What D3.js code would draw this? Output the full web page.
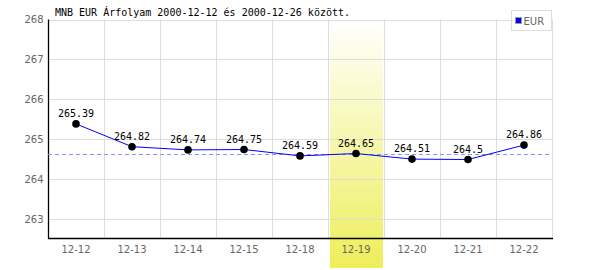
<!DOCTYPE html>
<html>
<head>
<meta charset="utf-8">
<script src="https://cdn.jsdelivr.net/npm/d3@7"></script>
<style>
  body { margin: 0; background: #fff; }
  svg text { font-family: "DejaVu Sans", Verdana, sans-serif; }
</style>
</head>
<body>
<script>
var days = ['12-12', '12-13', '12-14', '12-15', '12-18', '12-19', '12-20', '12-21', '12-22']
var rates = [265.39, 264.82, 264.74, 264.75, 264.59, 264.65, 264.51, 264.5, 264.86]
var yTicks = [263, 264, 265, 266, 267, 268]
var highlightDay = '12-19'
var refRate = 264.65
var title = 'MNB EUR Árfolyam 2000-12-12 és 2000-12-26 között.'
var seriesName = 'EUR'

var width = 600, height = 270
var margin = {left: 48, right: 48, top: 19.5, bottom: 31.5}

var svg = d3.select('body').append('svg')
  .attr('width', width).attr('height', height)

var x = d3.scaleBand().domain(days).range([margin.left, width - margin.right]).padding(0)
var y = d3.scaleLinear().domain([262.525, 268]).range([height - margin.bottom, margin.top])

var grad = svg.append('defs').append('linearGradient')
  .attr('id', 'hl').attr('x1', 0).attr('y1', 0).attr('x2', 0).attr('y2', 1)
grad.append('stop').attr('offset', '0%').attr('stop-color', '#ffffff')
grad.append('stop').attr('offset', '100%').attr('stop-color', '#eeee5a')

// highlighted day
svg.append('rect')
  .attr('x', x(highlightDay) + 2)
  .attr('y', margin.top)
  .attr('width', x.bandwidth() - 3)
  .attr('height', height - margin.top - 2)
  .attr('fill', 'url(#hl)')

// grid
svg.append('g').selectAll('line').data(yTicks).join('line')
  .attr('x1', margin.left).attr('x2', width - margin.right)
  .attr('y1', d => Math.round(y(d)) + 0.5).attr('y2', d => Math.round(y(d)) + 0.5)
  .attr('stroke', '#dddddd')

svg.append('g').selectAll('line').data(days).join('line')
  .attr('x1', d => x(d) + x.bandwidth() + 0.5).attr('x2', d => x(d) + x.bandwidth() + 0.5)
  .attr('y1', margin.top).attr('y2', height - margin.bottom)
  .attr('stroke', '#dddddd')

// axes
var yAxis = svg.append('g')
  .attr('transform', 'translate(' + (margin.left + 0.5) + ',0)')
  .call(d3.axisLeft(y).tickValues(yTicks).tickFormat(d3.format('d')).tickSize(0).tickPadding(5))
var xAxis = svg.append('g')
  .attr('transform', 'translate(0,' + (height - margin.bottom) + ')')
  .call(d3.axisBottom(x).tickSize(0).tickPadding(7))

;[xAxis, yAxis].forEach(function(a){
  a.select('.domain').attr('stroke', '#000').attr('stroke-width', 1.3)
  a.selectAll('text').attr('fill', '#666').style('font-size', '10px')
})
yAxis.select('.domain').attr('d', 'M0,' + margin.top + 'V' + (height - margin.bottom))
xAxis.select('.domain').attr('d', 'M' + margin.left + ',0H' + (width - margin.right + 1))

// reference line
svg.append('line')
  .attr('x1', margin.left).attr('x2', width - margin.right)
  .attr('y1', Math.round(y(refRate)) + 0.5).attr('y2', Math.round(y(refRate)) + 0.5)
  .attr('stroke', '#8f8fff').attr('stroke-dasharray', '4,3')

// series
var cx = d => x(d) + x.bandwidth() / 2
var line = d3.line().x((d, i) => cx(days[i])).y(d => y(d))

svg.append('path').datum(rates)
  .attr('d', line)
  .attr('fill', 'none').attr('stroke', '#0000ff').attr('stroke-width', 1)

svg.append('g').selectAll('circle').data(rates).join('circle')
  .attr('cx', (d, i) => cx(days[i])).attr('cy', d => y(d)).attr('r', 3.8)
  .attr('fill', '#000')

svg.append('g').selectAll('text').data(rates).join('text')
  .attr('x', (d, i) => cx(days[i])).attr('y', d => y(d) - 7)
  .attr('text-anchor', 'middle')
  .style('font-family', '"DejaVu Sans Mono", monospace').style('font-size', '10px')
  .attr('fill', '#000')
  .text(d => d)

// title
svg.append('text')
  .attr('x', 55).attr('y', 16)
  .style('font-family', '"DejaVu Sans Mono", monospace').style('font-size', '10px')
  .attr('fill', '#000')
  .text(title)

// legend
var lg = svg.append('g').attr('transform', 'translate(511.5,10.5)')
lg.append('rect').attr('width', 40).attr('height', 20).attr('fill', '#fff').attr('stroke', '#dddddd')
lg.append('rect').attr('x', 4).attr('y', 7).attr('width', 6).attr('height', 6)
  .attr('fill', '#0000ff').attr('stroke', '#999')
lg.append('text').attr('x', 12).attr('y', 14).attr('fill', '#666')
  .style('font-size', '10px').text(seriesName)
</script>
</body>
</html>
